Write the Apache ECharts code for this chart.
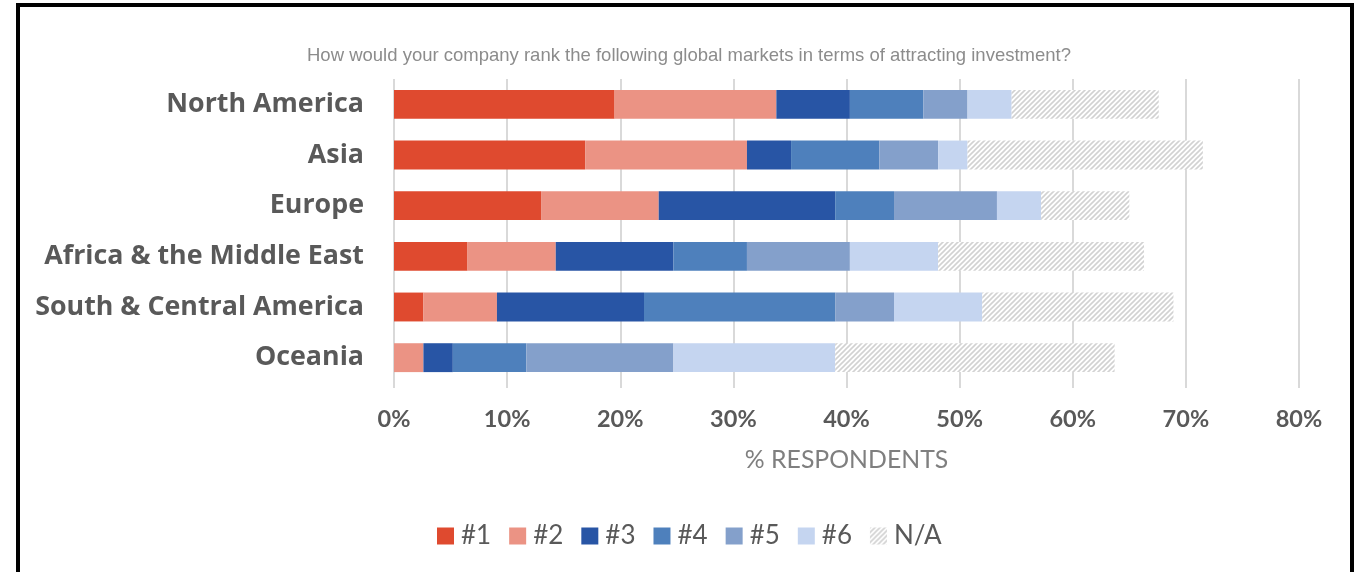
<!DOCTYPE html>
<html>
<head>
<meta charset="utf-8">
<script src="https://cdn.jsdelivr.net/npm/echarts@6/dist/echarts.min.js"></script>
<style>html,body{margin:0;padding:0;background:#fff;}#c{width:1360px;height:572px;}</style>
</head>
<body>
<div id="c"></div>
<script>
const categories = ['North America', 'Asia', 'Europe', 'Africa & the Middle East', 'South & Central America', 'Oceania'];
const seriesNames = ['#1', '#2', '#3', '#4', '#5', '#6', 'N/A'];
const rank1 = [19.5, 16.9, 13.0, 6.5, 2.6, 0];
const rank2 = [14.3, 14.3, 10.4, 7.8, 6.5, 2.6];
const rank3 = [6.5, 3.9, 15.6, 10.4, 13.0, 2.6];
const rank4 = [6.5, 7.8, 5.2, 6.5, 16.9, 6.5];
const rank5 = [3.9, 5.2, 9.1, 9.1, 5.2, 13.0];
const rank6 = [3.9, 2.6, 3.9, 7.8, 7.8, 14.3];
const rankNA = [13.0, 20.8, 7.8, 18.2, 16.9, 24.7];
const xTicks = [0, 10, 20, 30, 40, 50, 60, 70, 80];

const colors = ['#DF4A2F', '#EB9384', '#2855A5', '#4E80BC', '#84A0CB', '#C5D5F0'];

function hatch() {
  const s = 5;
  const cv = document.createElement('canvas');
  cv.width = s; cv.height = s;
  const g = cv.getContext('2d');
  g.fillStyle = '#ffffff';
  g.fillRect(0, 0, s, s);
  g.strokeStyle = '#d2d2d2';
  g.lineWidth = 1.6;
  g.beginPath();
  g.moveTo(-1, s + 1); g.lineTo(s + 1, -1);
  g.moveTo(-1, 1); g.lineTo(1, -1);
  g.moveTo(s - 1, s + 1); g.lineTo(s + 1, s - 1);
  g.stroke();
  return cv;
}
const hatchPattern = { image: hatch(), repeat: 'repeat' };

const dataSets = [rank1, rank2, rank3, rank4, rank5, rank6, rankNA];
const series = dataSets.map((d, i) => ({
  name: seriesNames[i],
  type: 'bar',
  stack: 'total',
  barCategoryGap: '43%',
  data: d,
  itemStyle: { color: i < 6 ? colors[i] : hatchPattern },
  emphasis: { disabled: true }
}));

const chart = echarts.init(document.getElementById('c'), null, { renderer: 'canvas' });
chart.setOption({
  animation: false,
  backgroundColor: '#ffffff',
  title: {
    text: 'How would your company rank the following global markets in terms of attracting investment?',
    left: 684, top: 41, textAlign: 'center',
    textStyle: { fontFamily: 'Liberation Sans', fontSize: 18.5, fontWeight: 'normal', color: '#8c8c8c' }
  },
  legend: {
    data: seriesNames.map((n, i) => i < 6 ? n : { name: n, itemStyle: { color: hatchPattern } }),
    top: 518,
    left: 432,
    itemWidth: 17, itemHeight: 17, itemGap: 18,
    icon: 'rect',
    textStyle: { fontFamily: 'Lato', fontSize: 26, color: '#595959', padding: [0, 0, 0, 2] }
  },
  grid: { left: 394, right: 61, top: 79, height: 304, containLabel: false },
  xAxis: {
    type: 'value', min: 0, max: 80, interval: 10,
    name: '% RESPONDENTS', nameLocation: 'middle', nameGap: 65,
    nameTextStyle: { fontFamily: 'Lato', fontSize: 24.8, color: '#7f7f7f' },
    axisLine: { show: false },
    axisTick: { show: true, length: 5, lineStyle: { color: '#d9d9d9', width: 2 } },
    splitLine: { show: true, lineStyle: { color: '#d9d9d9', width: 2 } },
    axisLabel: {
      formatter: v => xTicks.includes(v) ? v + '%' : '',
      fontFamily: 'Lato', fontWeight: 'bold', fontSize: 23.5, color: '#595959', margin: 24
    }
  },
  yAxis: {
    type: 'category', data: categories, inverse: true,
    axisLine: { show: false }, axisTick: { show: false },
    axisLabel: { fontFamily: 'Open Sans', fontWeight: 'bold', fontSize: 26.8, color: '#595959', margin: 30, padding: [4, 0, 0, 0] }
  },
  series: series,
  graphic: [{
    type: 'rect', silent: true, z: 100,
    shape: { x: 18, y: 5, width: 1334, height: 640 },
    style: { fill: 'none', stroke: '#000000', lineWidth: 4 }
  }]
});
</script>
</body>
</html>
